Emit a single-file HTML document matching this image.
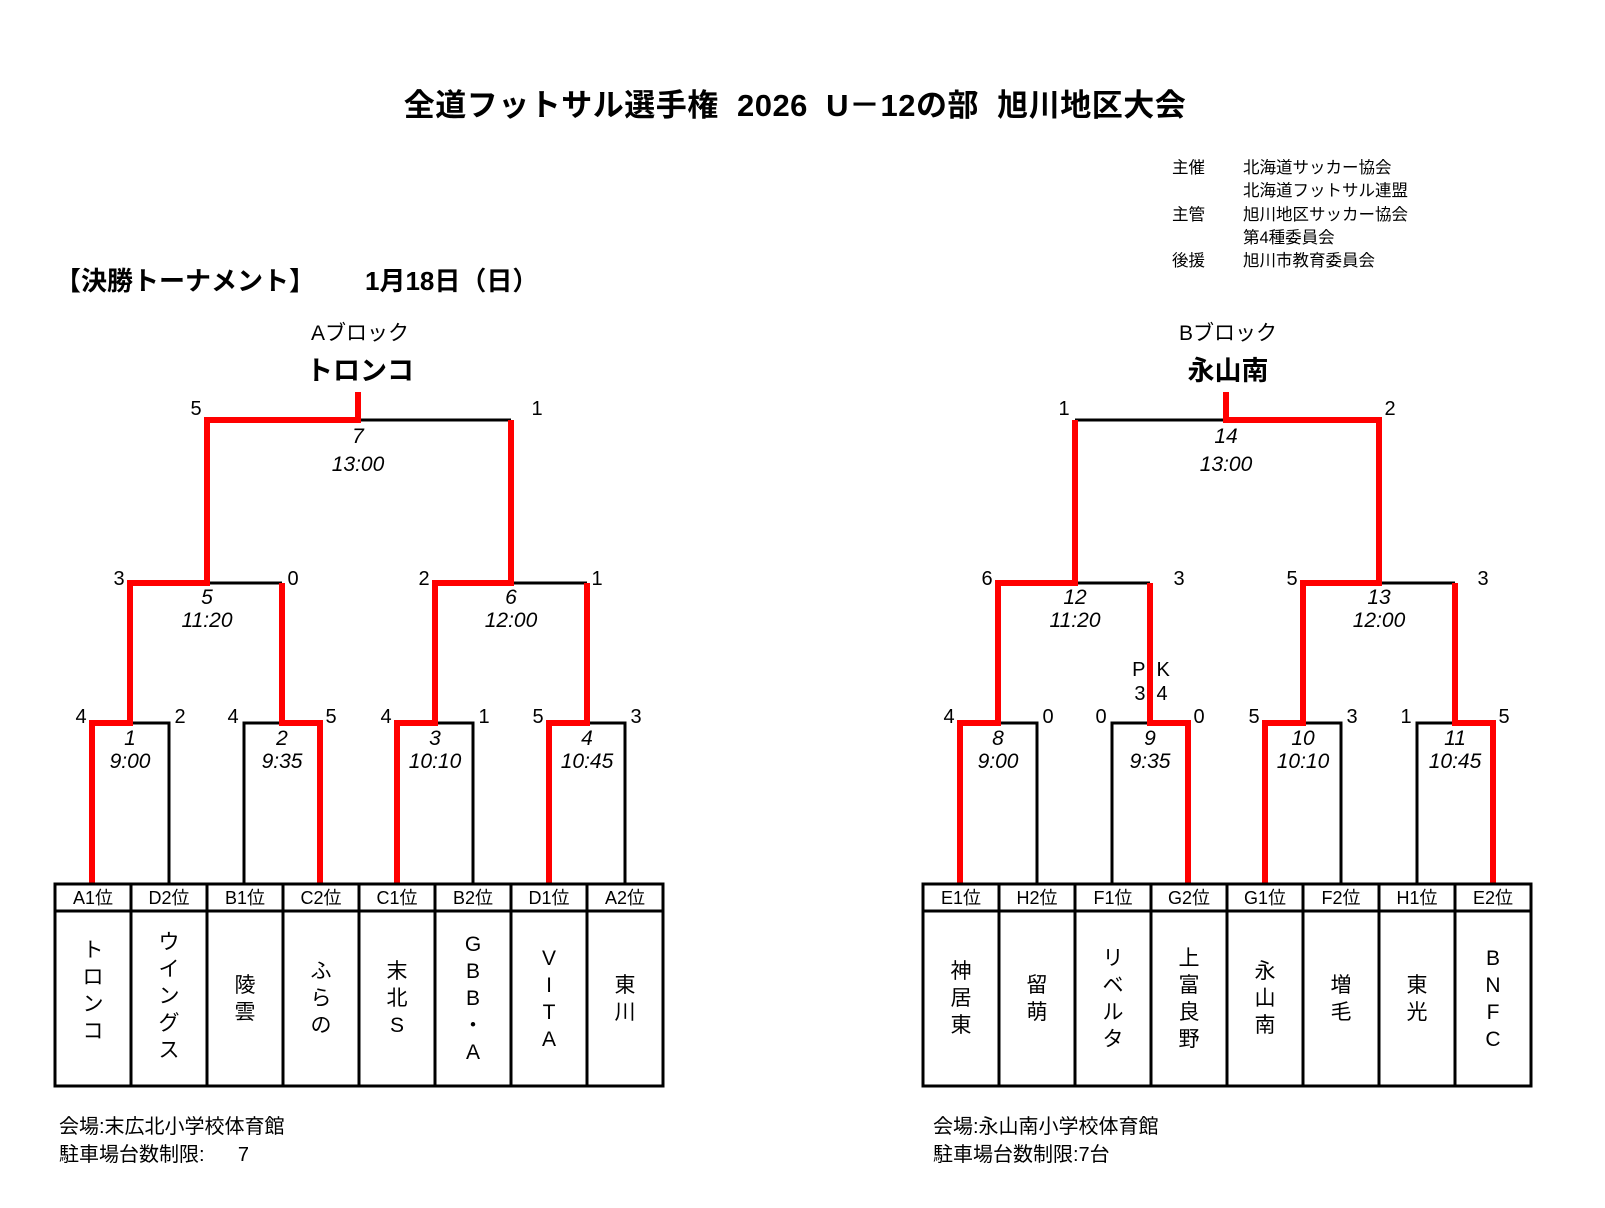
<!DOCTYPE html>
<html><head><meta charset="utf-8"><style>
html,body{margin:0;padding:0;background:#fff}
svg{display:block}
text{font-family:"Liberation Sans","Noto Sans CJK JP",sans-serif;fill:#000}
.sc{font-size:20px;text-anchor:middle}
.it{font-size:21px;font-style:italic;text-anchor:middle}
.hd{font-size:18px;text-anchor:middle}
</style></head><body>
<svg width="1605" height="1208" viewBox="0 0 1605 1208" xmlns="http://www.w3.org/2000/svg">
<text x="795" y="116" style="font-size:31px;font-weight:bold;text-anchor:middle;letter-spacing:0.5px">全道フットサル選手権&#160;&#160;2026&#160;&#160;U－12の部&#160;&#160;旭川地区大会</text>
<g style="font-size:16.5px">
<text x="1172" y="173">主催</text><text x="1243" y="173">北海道サッカー協会</text>
<text x="1243" y="196">北海道フットサル連盟</text>
<text x="1172" y="220">主管</text><text x="1243" y="220">旭川地区サッカー協会</text>
<text x="1243" y="243">第4種委員会</text>
<text x="1172" y="266">後援</text><text x="1243" y="266">旭川市教育委員会</text>
</g>
<text x="55" y="290" style="font-size:26px;font-weight:bold">【決勝トーナメント】</text>
<text x="365" y="290" style="font-size:26px;font-weight:bold">1月18日（日）</text>
<text x="360" y="340" style="font-size:21px;text-anchor:middle">Aブロック</text>
<text x="360" y="380" style="font-size:27px;font-weight:bold;text-anchor:middle">トロンコ</text>

<g fill="none" stroke="#000" stroke-width="3">
<path d="M358,420H511M207,583H282M511,583H587M130,723H169V884M244,884V723H282M435,723H473V884M587,723H625V884"/>
</g>
<g fill="none" stroke="#ff0000" stroke-width="6" stroke-linejoin="miter">
<path d="M358,392V420H207V583H130V723H92V884M511,420V583H435V723H397V884M282,583V723H320V884M587,583V723H549V884"/>
</g>
<text class="sc" x="196" y="415">5</text><text class="sc" x="537" y="415">1</text>
<text class="sc" x="119" y="585">3</text><text class="sc" x="293" y="585">0</text>
<text class="sc" x="424" y="585">2</text><text class="sc" x="597" y="585">1</text>
<text class="sc" x="81" y="723">4</text><text class="sc" x="180" y="723">2</text>
<text class="sc" x="233" y="723">4</text><text class="sc" x="331" y="723">5</text>
<text class="sc" x="386" y="723">4</text><text class="sc" x="484" y="723">1</text>
<text class="sc" x="538" y="723">5</text><text class="sc" x="636" y="723">3</text>
<text class="it" x="358" y="443">7</text><text class="it" x="358" y="471">13:00</text>
<text class="it" x="207" y="604">5</text><text class="it" x="207" y="627">11:20</text>
<text class="it" x="511" y="604">6</text><text class="it" x="511" y="627">12:00</text>
<text class="it" x="130" y="745">1</text><text class="it" x="130" y="768">9:00</text>
<text class="it" x="282" y="745">2</text><text class="it" x="282" y="768">9:35</text>
<text class="it" x="435" y="745">3</text><text class="it" x="435" y="768">10:10</text>
<text class="it" x="587" y="745">4</text><text class="it" x="587" y="768">10:45</text>
<g fill="none" stroke="#000" stroke-width="3">
<rect x="55" y="884" width="608" height="202"/>
<path d="M55,911H663M131,884V1086M207,884V1086M283,884V1086M359,884V1086M435,884V1086M511,884V1086M587,884V1086"/>
</g>
<text class="hd" x="93" y="904">A1位</text><text class="hd" x="169" y="904">D2位</text><text class="hd" x="245" y="904">B1位</text><text class="hd" x="321" y="904">C2位</text><text class="hd" x="397" y="904">C1位</text><text class="hd" x="473" y="904">B2位</text><text class="hd" x="549" y="904">D1位</text><text class="hd" x="625" y="904">A2位</text>
<g style="font-size:21px;text-anchor:middle">
<text x="93" y="957">ト</text><text x="93" y="984">ロ</text><text x="93" y="1011">ン</text><text x="93" y="1038">コ</text>
<text x="169" y="949">ウ</text><text x="169" y="976">イ</text><text x="169" y="1003">ン</text><text x="169" y="1030">グ</text><text x="169" y="1057">ス</text>
<text x="245" y="992">陵</text><text x="245" y="1019">雲</text>
<text x="321" y="978">ふ</text><text x="321" y="1005">ら</text><text x="321" y="1032">の</text>
<text x="397" y="978">末</text><text x="397" y="1005">北</text><text x="397" y="1032">S</text>
<text x="473" y="951">G</text><text x="473" y="978">B</text><text x="473" y="1005">B</text><text x="473" y="1032">・</text><text x="473" y="1059">A</text>
<text x="549" y="965">V</text><text x="549" y="992">I</text><text x="549" y="1019">T</text><text x="549" y="1046">A</text>
<text x="625" y="992">東</text><text x="625" y="1019">川</text>
</g>
<g style="font-size:20px">
<text x="59" y="1133">会場:末広北小学校体育館</text>
<text x="59" y="1161">駐車場台数制限:&#160;&#160;&#160;&#160;&#160;&#160;7</text>
</g>

<g transform="translate(-6,0)">
<text x="1234" y="340" style="font-size:21px;text-anchor:middle">Bブロック</text>
<text x="1234" y="380" style="font-size:27px;font-weight:bold;text-anchor:middle">永山南</text>
<g fill="none" stroke="#000" stroke-width="3">
<path d="M1081,420H1232M1081,583H1156M1385,583H1461M1004,723H1043V884M1118,884V723H1156M1309,723H1347V884M1423,884V723H1461"/>
</g>
<g fill="none" stroke="#ff0000" stroke-width="6" stroke-linejoin="miter">
<path d="M1232,392V420H1385V583H1309V723H1271V884M1081,420V583H1004V723H966V884M1156,583V723H1194V884M1461,583V723H1499V884"/>
</g>
<text class="sc" x="1070" y="415">1</text><text class="sc" x="1396" y="415">2</text>
<text class="sc" x="993" y="585">6</text><text class="sc" x="1185" y="585">3</text>
<text class="sc" x="1298" y="585">5</text><text class="sc" x="1489" y="585">3</text>
<text class="sc" x="955" y="723">4</text><text class="sc" x="1054" y="723">0</text>
<text class="sc" x="1107" y="723">0</text><text class="sc" x="1205" y="723">0</text>
<text class="sc" x="1260" y="723">5</text><text class="sc" x="1358" y="723">3</text>
<text class="sc" x="1412" y="723">1</text><text class="sc" x="1510" y="723">5</text>
<text class="sc" x="1157" y="676">P&#160;&#160;K</text><text class="sc" x="1157" y="700">3&#160;&#160;4</text>
<text class="it" x="1232" y="443">14</text><text class="it" x="1232" y="471">13:00</text>
<text class="it" x="1081" y="604">12</text><text class="it" x="1081" y="627">11:20</text>
<text class="it" x="1385" y="604">13</text><text class="it" x="1385" y="627">12:00</text>
<text class="it" x="1004" y="745">8</text><text class="it" x="1004" y="768">9:00</text>
<text class="it" x="1156" y="745">9</text><text class="it" x="1156" y="768">9:35</text>
<text class="it" x="1309" y="745">10</text><text class="it" x="1309" y="768">10:10</text>
<text class="it" x="1461" y="745">11</text><text class="it" x="1461" y="768">10:45</text>
<g fill="none" stroke="#000" stroke-width="3">
<rect x="929" y="884" width="608" height="202"/>
<path d="M929,911H1537M1005,884V1086M1081,884V1086M1157,884V1086M1233,884V1086M1309,884V1086M1385,884V1086M1461,884V1086"/>
</g>
<text class="hd" x="967" y="904">E1位</text><text class="hd" x="1043" y="904">H2位</text><text class="hd" x="1119" y="904">F1位</text><text class="hd" x="1195" y="904">G2位</text><text class="hd" x="1271" y="904">G1位</text><text class="hd" x="1347" y="904">F2位</text><text class="hd" x="1423" y="904">H1位</text><text class="hd" x="1499" y="904">E2位</text>
<g style="font-size:21px;text-anchor:middle">
<text x="967" y="978">神</text><text x="967" y="1005">居</text><text x="967" y="1032">東</text>
<text x="1043" y="992">留</text><text x="1043" y="1019">萌</text>
<text x="1119" y="965">リ</text><text x="1119" y="992">ベ</text><text x="1119" y="1019">ル</text><text x="1119" y="1046">タ</text>
<text x="1195" y="965">上</text><text x="1195" y="992">富</text><text x="1195" y="1019">良</text><text x="1195" y="1046">野</text>
<text x="1271" y="978">永</text><text x="1271" y="1005">山</text><text x="1271" y="1032">南</text>
<text x="1347" y="992">増</text><text x="1347" y="1019">毛</text>
<text x="1423" y="992">東</text><text x="1423" y="1019">光</text>
<text x="1499" y="965">B</text><text x="1499" y="992">N</text><text x="1499" y="1019">F</text><text x="1499" y="1046">C</text>
</g>
<g style="font-size:20px">
<text x="939" y="1133">会場:永山南小学校体育館</text>
<text x="939" y="1161">駐車場台数制限:7台</text>
</g>
</g>
</svg>
</body></html>
